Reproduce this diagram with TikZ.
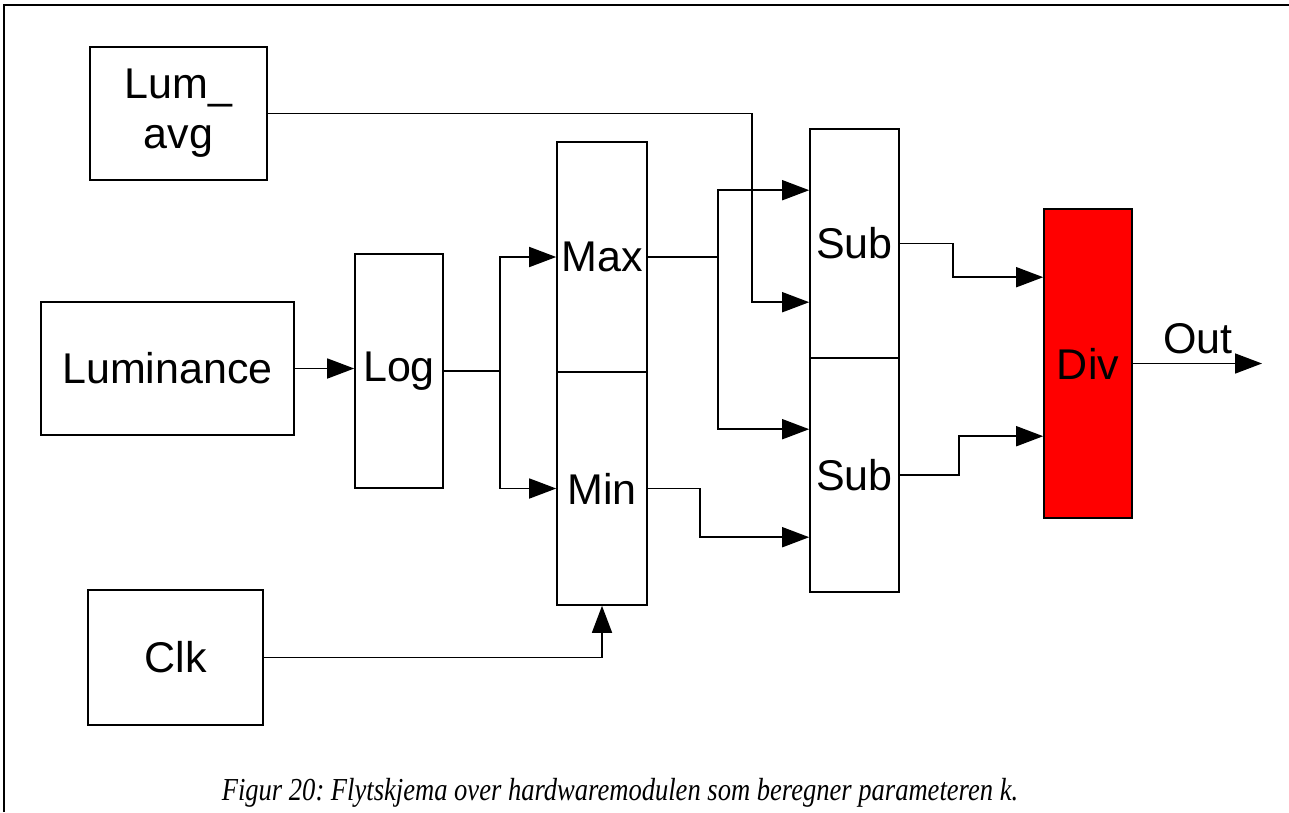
\documentclass[tikz,border=0pt]{standalone}
\usepackage{fontspec}
\setmainfont{Liberation Sans}
\newfontfamily\capfont{Liberation Serif}
\usetikzlibrary{arrows.meta,calc}
\begin{document}
\begin{tikzpicture}[x=1pt,y=-1pt,
  blk/.style={draw=black,line width=1.6pt,inner sep=0pt,font=\fontsize{43}{50}\selectfont,text=black},
  wire/.style={draw=black,line width=1.6pt},
  arr/.style={wire,-{Triangle[length=27pt,width=20pt]}}]
\useasboundingbox (0,0) rectangle (1289,812);
\draw[line width=2pt] (4,812) -- (4,5) -- (1289,5);
% blocks
\node[blk,minimum width=177pt,minimum height=133pt,align=center] (lumavg) at (178.5,113.5) {Lum\_\\avg};
\node[blk,minimum width=253pt,minimum height=133pt] (lum) at (167.5,368.5) {Luminance};
\node[blk,minimum width=88pt,minimum height=234pt] (log) at (399,371) {Log};
\node[blk,minimum width=90pt,minimum height=230pt] (max) at (602,257) {Max};
\node[blk,minimum width=90pt,minimum height=233pt] (min) at (602,488.5) {Min};
\node[blk,minimum width=89pt,minimum height=229pt] (sub1) at (854.5,243.5) {Sub};
\node[blk,minimum width=89pt,minimum height=234pt] (sub2) at (854.5,475) {Sub};
\node[blk,fill=red,minimum width=88pt,minimum height=309pt] (div) at (1088,363.5) {Div};
\node[blk,minimum width=175pt,minimum height=135pt] (clk) at (175.5,657.5) {Clk};
% branch coordinates
\coordinate (sp1) at (500,371);
\coordinate (sp2) at (718,257);
\coordinate (s1a) at ($(sub1.north west)+(0,62)$);
\coordinate (s1b) at ($(sub1.north west)+(0,174)$);
\coordinate (s2a) at ($(sub2.north west)+(0,72)$);
\coordinate (s2b) at ($(sub2.north west)+(0,180)$);
\coordinate (d1) at ($(div.north west)+(0,69)$);
\coordinate (d2) at ($(div.north west)+(0,228)$);
\coordinate (out) at (1262,363.5);
% connectors
\draw[arr] (lum.east) -- (lum.east -| log.west);
\draw[wire] (log.east) -- (sp1);
\draw[arr] (sp1) |- (max.west);
\draw[arr] (sp1) |- (min.west);
\draw[wire] (max.east) -- (sp2);
\draw[arr] (sp2) |- (s1a);
\draw[arr] (sp2) |- (s2a);
\draw[arr] (lumavg.east) -- (752,113.5) |- (s1b);
\draw[arr] (min.east) -- (700,488.5) |- (s2b);
\draw[arr] (sub1.east) -- (953,243.5) |- (d1);
\draw[arr] (sub2.east) -- (959,475) |- (d2);
\draw[arr] (div.east) -- (out);
\draw[arr] (clk.east) -| (min.south);
\node[font=\fontsize{43}{50}\selectfont,inner sep=0pt,anchor=base] (outlbl) at (1198,353) {Out};
\node[inner sep=0pt,anchor=base] (cap) at (620,800) {\scalebox{0.83}[1]{\capfont\itshape\fontsize{32}{38}\selectfont\frenchspacing Figur 20: Flytskjema over hardwaremodulen som beregner parameteren k.}};
\end{tikzpicture}
\end{document}
